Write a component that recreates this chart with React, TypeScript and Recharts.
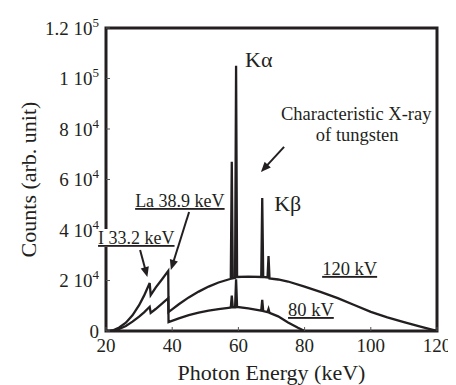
import React from 'react';
import { LineChart, Line, XAxis, YAxis, ReferenceArea, ReferenceLine, ReferenceDot } from 'recharts';

const FONT = "'Liberation Serif', 'Times New Roman', Times, serif";
const INK = '#231f20';

// 120 kV spectrum
const energy120 = [20, 21, 22, 24, 26, 28, 30, 31.5, 33.2, 33.5, 35, 37, 38.8, 38.9, 42, 45, 48, 51, 54, 57, 57.7, 58.0, 58.3, 59.0, 59.3, 59.6, 63, 66.9, 67.2, 67.5, 68.8, 69.1, 69.4, 72, 75, 80, 85, 90, 95, 100, 105, 110, 115, 120];
const counts120 = [0, 0, 200, 1400, 3300, 6200, 10200, 14000, 19000, 14200, 17200, 20600, 23800, 7500, 10600, 13300, 15600, 17600, 19200, 20400, 20700, 67000, 20900, 21100, 105000, 21400, 21500, 21400, 52700, 21400, 21200, 29700, 20800, 20400, 19600, 17600, 15400, 13000, 10300, 7600, 5400, 3500, 1700, 0];

// 80 kV spectrum
const energy80 = [20, 21, 22, 24, 26, 28, 30, 31.5, 33.2, 33.5, 35, 37, 38.8, 38.9, 42, 45, 48, 51, 54, 57, 57.7, 58.0, 58.3, 59.0, 59.3, 59.6, 63, 66.9, 67.2, 67.5, 68.8, 69.1, 69.4, 72, 75, 78, 80];
const counts80 = [0, 0, 100, 800, 2000, 3700, 5700, 7400, 9600, 7200, 8700, 10900, 13000, 3500, 5000, 6300, 7300, 8100, 8700, 9200, 9300, 14000, 9400, 9400, 20500, 9500, 9000, 8100, 12300, 7900, 7500, 8700, 7200, 5800, 3400, 1300, 0];

const xTicks = [20, 40, 60, 80, 100, 120];
const xInnerTicks = [40, 60, 80, 100];
const yTicks = [0, 20000, 40000, 60000, 80000, 100000, 120000];
const yInnerTicks = [20000, 40000, 60000, 80000, 100000];
const yTickMantissa = ['0', '2', '4', '6', '8', '1', '1.2'];
const yTickExponent = ['', '4', '4', '4', '4', '5', '5'];

// annotation texts
const labelTexts = ['K\u03b1', 'K\u03b2', 'Characteristic X-ray', 'of tungsten', 'La 38.9 keV', 'I 33.2 keV', '120 kV', '80 kV'];
const labelX = [62.0, 70.8, 95.6, 95.9, 28.8, 17.6, 85.3, 75.0];
const labelY = [104500, 47500, 83500, 75200, 49100, 34450, 22200, 5940];
const labelAnchor = ['start', 'start', 'middle', 'middle', 'start', 'start', 'start', 'start'];
const labelSize = [22, 22, 18.5, 18.5, 18, 18, 18.5, 18.5];
const labelUnderline = [false, false, false, false, true, true, true, true];
const labelBackdropWidth = [0, 0, 0, 0, 0, 79, 0, 0];

// arrows: tail -> tip
const arrowTailX = [73.8, 45.1, 30.3];
const arrowTailY = [72900, 47100, 32100];
const arrowTipX = [66.8, 39.6, 32.5];
const arrowTipY = [63000, 24200, 21400];

const data120 = energy120.map((x, i) => ({ x, y: counts120[i] }));
const data80 = energy80.map((x, i) => ({ x, y: counts80[i] }));

const YTick = (props: any) => {
  const { x, y, payload } = props;
  const i = yTicks.indexOf(payload.value);
  const m = yTickMantissa[i];
  const e = yTickExponent[i];
  return (
    <text x={x} y={y} dy="0.36em" textAnchor="end" fontFamily={FONT} fontSize={19} fill={INK}>
      {e ? (
        <>
          {m} 10<tspan dy={-8} fontSize={13}>{e}</tspan>
        </>
      ) : (
        m
      )}
    </text>
  );
};

const XTick = (props: any) => {
  const { x, y, payload } = props;
  return (
    <text x={x} y={y} dy="0.71em" textAnchor="middle" fontFamily={FONT} fontSize={19} fill={INK}>
      {payload.value}
    </text>
  );
};

const Arrow = (props: any) => {
  const { x1, y1, x2, y2 } = props;
  const dx = x2 - x1;
  const dy = y2 - y1;
  const len = Math.hypot(dx, dy) || 1;
  const ux = dx / len;
  const uy = dy / len;
  const hl = 10;
  const hw = 4.2;
  const bx = x2 - ux * hl;
  const by = y2 - uy * hl;
  return (
    <g>
      <line x1={x1} y1={y1} x2={bx + ux * 2} y2={by + uy * 2} stroke={INK} strokeWidth={2} />
      <polygon
        points={`${x2},${y2} ${bx - uy * hw},${by + ux * hw} ${bx + uy * hw},${by - ux * hw}`}
        fill={INK}
      />
    </g>
  );
};

const makeLabel = (i: number) => (p: any) => (
  <g>
    {labelBackdropWidth[i] > 0 && (
      <rect x={p.cx - 1} y={p.cy - 15} width={labelBackdropWidth[i]} height={18} fill="#ffffff" />
    )}
    <text
      x={p.cx}
      y={p.cy}
      textAnchor={labelAnchor[i]}
      fontFamily={FONT}
      fontSize={labelSize[i]}
      fill={INK}
      textDecoration={labelUnderline[i] ? 'underline' : undefined}
    >
      {labelTexts[i]}
    </text>
  </g>
);

const YTitle = (props: any) => {
  const vb = props.viewBox || {};
  const cy = vb.y + vb.height / 2;
  return (
    <text
      x={28}
      y={cy}
      transform={`rotate(-90, 28, ${cy})`}
      textAnchor="middle"
      fontFamily={FONT}
      fontSize={22}
      fill={INK}
    >
      Counts (arb. unit)
    </text>
  );
};

const XTitle = (props: any) => {
  const vb = props.viewBox || {};
  return (
    <text
      x={vb.x + vb.width / 2}
      y={vb.y + 49}
      textAnchor="middle"
      fontFamily={FONT}
      fontSize={22}
      fill={INK}
    >
      Photon Energy (keV)
    </text>
  );
};

export default function App() {
  return (
    <LineChart width={448} height={377} margin={{ top: 19, right: 18, left: 0, bottom: 0 }}>
      <XAxis
        dataKey="x"
        type="number"
        domain={[20, 120]}
        ticks={xTicks}
        allowDataOverflow
        axisLine={false}
        tickLine={{ stroke: '#555', strokeWidth: 1 }}
        tickSize={-4}
        tickMargin={11.5}
        tick={<XTick />}
        height={54}
        label={(p: any) => <XTitle {...p} />}
      />
      <XAxis
        xAxisId="top"
        orientation="top"
        type="number"
        domain={[20, 120]}
        ticks={xInnerTicks}
        allowDataOverflow
        axisLine={false}
        tickLine={{ stroke: '#555', strokeWidth: 1 }}
        tickSize={-4}
        tick={false}
        height={1}
      />
      <YAxis
        type="number"
        domain={[0, 120000]}
        ticks={yTicks}
        allowDataOverflow
        axisLine={false}
        tickLine={{ stroke: '#555', strokeWidth: 1 }}
        tickSize={-4}
        tickMargin={11}
        tick={<YTick />}
        width={98}
        interval={0}
        label={(p: any) => <YTitle {...p} />}
      />
      <YAxis
        yAxisId="right"
        orientation="right"
        type="number"
        domain={[0, 120000]}
        ticks={yInnerTicks}
        allowDataOverflow
        axisLine={false}
        tickLine={{ stroke: '#555', strokeWidth: 1 }}
        tickSize={-4}
        tick={false}
        width={1}
      />
      <Line
        data={data120}
        dataKey="y"
        type="linear"
        stroke={INK}
        strokeWidth={2.3}
        dot={false}
        isAnimationActive={false}
      />
      <Line
        data={data80}
        dataKey="y"
        type="linear"
        stroke={INK}
        strokeWidth={2.3}
        dot={false}
        isAnimationActive={false}
      />
      <ReferenceArea
        x1={20}
        x2={120}
        y1={0}
        y2={120000}
        fill="none"
        stroke={INK}
        strokeWidth={3}
        ifOverflow="visible"
      />
      {arrowTailX.map((tx, i) => (
        <ReferenceLine
          key={'a' + i}
          segment={[
            { x: tx, y: arrowTailY[i] },
            { x: arrowTipX[i], y: arrowTipY[i] },
          ]}
          stroke={INK}
          ifOverflow="visible"
          shape={(p: any) => <Arrow {...p} />}
        />
      ))}
      {labelTexts.map((t, i) => (
        <ReferenceDot
          key={'l' + i}
          x={labelX[i]}
          y={labelY[i]}
          r={0}
          ifOverflow="visible"
          shape={makeLabel(i)}
        />
      ))}
    </LineChart>
  );
}
